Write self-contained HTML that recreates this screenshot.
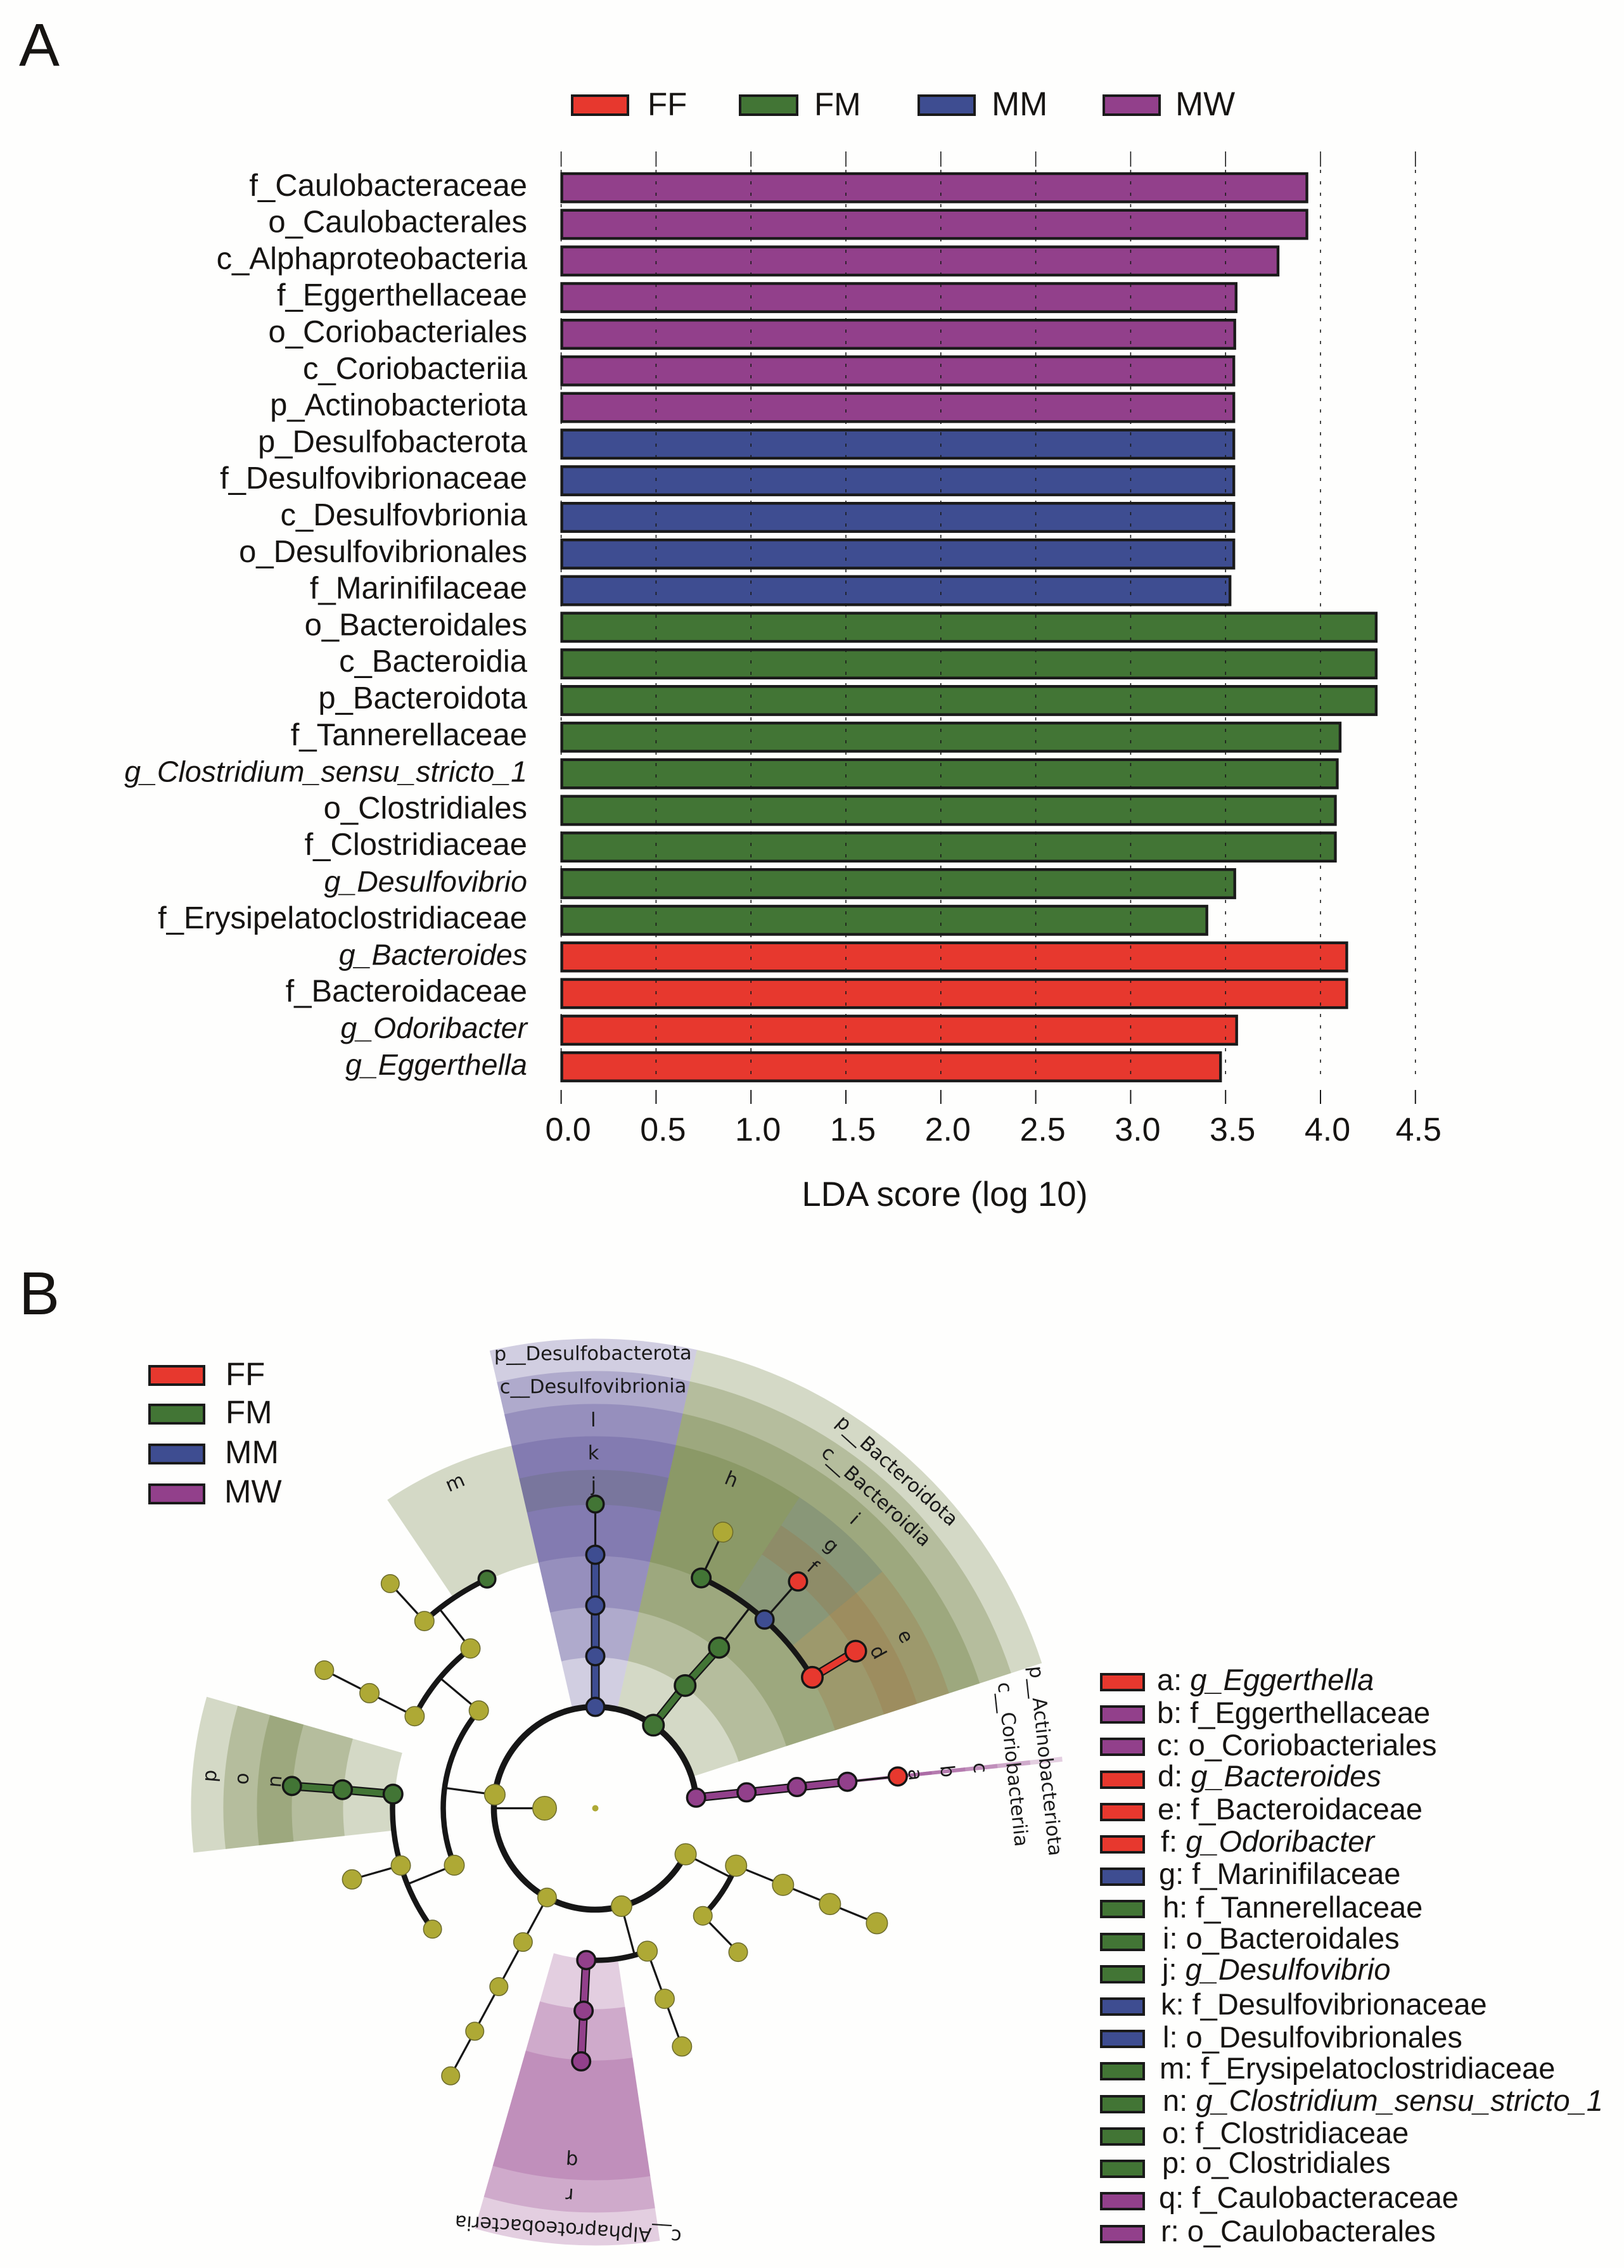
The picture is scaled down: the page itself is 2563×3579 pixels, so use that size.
<!DOCTYPE html>
<html lang="en">
<head>
<meta charset="utf-8">
<title>LEfSe LDA scores and cladogram</title>
<style>
html,body{margin:0;padding:0;background:#fefefd;}
svg{display:block;position:absolute;left:0;top:0;}
text{font-family:"Liberation Sans",Arial,sans-serif;fill:#161412;}
.clade{font-family:"DejaVu Sans",sans-serif;font-size:30.5px;fill:#1a1a1a;}
.leg{font-size:47px;}
.lg{font-size:51px;}
.panel{font-size:96px;}
.sw{stroke:#1a1a1a;stroke-width:4;}
</style>
</head>
<body>
<svg id="fig" xmlns="http://www.w3.org/2000/svg" width="2563" height="3579" viewBox="0 0 2563 3579">
<rect width="2563" height="3579" fill="#fefefd"/>
<text class="panel" x="30" y="104">A</text>
<text class="panel" x="30" y="2074">B</text>

<g>
<rect class="sw" x="903" y="151" width="88" height="30" fill="#e7382e"/>
<text class="lg" x="1022" y="182">FF</text>
<rect class="sw" x="1168" y="151" width="90" height="30" fill="#427535"/>
<text class="lg" x="1285" y="182">FM</text>
<rect class="sw" x="1450" y="151" width="88" height="30" fill="#3e4d91"/>
<text class="lg" x="1565" y="182" font-size="53" style="font-size:53px">MM</text>
<rect class="sw" x="1742" y="151" width="88" height="30" fill="#92408b"/>
<text class="lg" x="1855" y="182" style="font-size:53px">MW</text>
</g>
<g id="bars"></g>
<text class="lg" x="1491" y="1903" text-anchor="middle" style="font-size:54.5px">LDA score (log 10)</text>

<g id="clado"></g>

<g>
<rect class="sw" x="236" y="2156" width="86" height="29" fill="#e7382e"/>
<text class="lg" x="356" y="2186">FF</text>
<rect class="sw" x="236" y="2217" width="86" height="29" fill="#427535"/>
<text class="lg" x="356" y="2246">FM</text>
<rect class="sw" x="236" y="2280" width="86" height="29" fill="#3e4d91"/>
<text class="lg" x="355" y="2309">MM</text>
<rect class="sw" x="236" y="2343" width="86" height="29" fill="#92408b"/>
<text class="lg" x="354" y="2371">MW</text>
</g>

<g>
<rect class="sw" x="1738" y="2642" width="67" height="25" fill="#e7382e"/>
<text class="leg" x="1826" y="2667">a: <tspan font-style="italic">g_Eggerthella</tspan></text>
<rect class="sw" x="1738" y="2693" width="67" height="25" fill="#92408b"/>
<text class="leg" x="1826" y="2719">b: f_Eggerthellaceae</text>
<rect class="sw" x="1738" y="2744" width="67" height="25" fill="#92408b"/>
<text class="leg" x="1826" y="2770">c: o_Coriobacteriales</text>
<rect class="sw" x="1738" y="2796" width="67" height="25" fill="#e7382e"/>
<text class="leg" x="1827" y="2819">d: <tspan font-style="italic">g_Bacteroides</tspan></text>
<rect class="sw" x="1738" y="2847" width="67" height="25" fill="#e7382e"/>
<text class="leg" x="1827" y="2871">e: f_Bacteroidaceae</text>
<rect class="sw" x="1738" y="2898" width="67" height="25" fill="#e7382e"/>
<text class="leg" x="1832" y="2922">f: <tspan font-style="italic">g_Odoribacter</tspan></text>
<rect class="sw" x="1738" y="2949" width="67" height="25" fill="#3e4d91"/>
<text class="leg" x="1829" y="2973">g: f_Marinifilaceae</text>
<rect class="sw" x="1738" y="3000" width="67" height="25" fill="#427535"/>
<text class="leg" x="1835" y="3026">h: f_Tannerellaceae</text>
<rect class="sw" x="1738" y="3052" width="67" height="25" fill="#427535"/>
<text class="leg" x="1835" y="3075">i: o_Bacteroidales</text>
<rect class="sw" x="1738" y="3103" width="67" height="25" fill="#427535"/>
<text class="leg" x="1834" y="3124">j: <tspan font-style="italic">g_Desulfovibrio</tspan></text>
<rect class="sw" x="1738" y="3154" width="67" height="25" fill="#3e4d91"/>
<text class="leg" x="1832" y="3179">k: f_Desulfovibrionaceae</text>
<rect class="sw" x="1738" y="3205" width="67" height="25" fill="#3e4d91"/>
<text class="leg" x="1835" y="3231">l: o_Desulfovibrionales</text>
<rect class="sw" x="1738" y="3256" width="67" height="25" fill="#427535"/>
<text class="leg" x="1830" y="3280">m: f_Erysipelatoclostridiaceae</text>
<rect class="sw" x="1738" y="3308" width="67" height="25" fill="#427535"/>
<text class="leg" x="1835" y="3331">n: <tspan font-style="italic">g_Clostridium_sensu_stricto_1</tspan></text>
<rect class="sw" x="1738" y="3359" width="67" height="25" fill="#427535"/>
<text class="leg" x="1834" y="3382">o: f_Clostridiaceae</text>
<rect class="sw" x="1738" y="3410" width="67" height="25" fill="#427535"/>
<text class="leg" x="1834" y="3429">p: o_Clostridiales</text>
<rect class="sw" x="1738" y="3461" width="67" height="25" fill="#92408b"/>
<text class="leg" x="1829" y="3484">q: f_Caulobacteraceae</text>
<rect class="sw" x="1738" y="3513" width="67" height="25" fill="#92408b"/>
<text class="leg" x="1832" y="3537">r: o_Caulobacterales</text>
</g>
</svg>

<script>
/* ---------- Panel A data ---------- */
const categories = ["f_Caulobacteraceae","o_Caulobacterales","c_Alphaproteobacteria","f_Eggerthellaceae","o_Coriobacteriales","c_Coriobacteriia","p_Actinobacteriota","p_Desulfobacterota","f_Desulfovibrionaceae","c_Desulfovbrionia","o_Desulfovibrionales","f_Marinifilaceae","o_Bacteroidales","c_Bacteroidia","p_Bacteroidota","f_Tannerellaceae","g_Clostridium_sensu_stricto_1","o_Clostridiales","f_Clostridiaceae","g_Desulfovibrio","f_Erysipelatoclostridiaceae","g_Bacteroides","f_Bacteroidaceae","g_Odoribacter","g_Eggerthella"];
const ldaScores = [3.935,3.935,3.783,3.562,3.555,3.55,3.55,3.55,3.55,3.55,3.55,3.53,4.30,4.30,4.30,4.11,4.095,4.085,4.085,3.555,3.408,4.145,4.145,3.565,3.48];
const barGroups = ["MW","MW","MW","MW","MW","MW","MW","MM","MM","MM","MM","MM","FM","FM","FM","FM","FM","FM","FM","FM","FM","FF","FF","FF","FF"];
const xTicks = [0,0.5,1,1.5,2,2.5,3,3.5,4,4.5];
const xTickLabels = ["0.0","0.5","1.0","1.5","2.0","2.5","3.0","3.5","4.0","4.5"];

/* ---------- Panel B data ---------- */
const nodeParent = [-1,-1,1,2,3,4,5,1,7,8,9,10,9,12,9,14,1,16,17,18,19,1,21,22,23,24,21,26,1,28,29,30,28,32,33,1,35,36,37,38,1,40,41,42,42,44,41,46,47,40,49,49,51,49,53,54];
const nodeLevel = [0,1,2,3,4,5,6,2,3,4,5,6,5,6,5,6,2,3,4,5,6,2,3,4,5,6,3,4,2,3,4,5,3,4,5,2,3,4,5,6,2,3,4,5,5,6,4,5,6,3,4,4,5,4,5,6];
const nodeAngle = [0,270,360,360,360,360,360,395,396.2,397.6,384.7,384.8,401.9,401.8,418.9,418.9,444,444,444,444,444,117,112.2,112.2,112.2,112.2,135,135.2,165,160,160,160,183.4,183.3,183.2,208.4,208.4,208.4,208.4,208.4,277.7,310,322,334.7,317.6,317.6,297,297,297,248,233.4,253.6,253.7,274,274.2,274.2];
const nodeGroup = ["O","O","MM","MM","MM","MM","FM","FM","FM","FM","FM","O","MM","FF","FF","FF","MW","MW","MW","MW","FF","O","O","O","O","O","O","O","O","O","O","O","MW","MW","MW","O","O","O","O","O","O","O","O","FM","O","O","O","O","O","O","O","O","O","FM","FM","FM"];
const nodeSize = [5,19.5,16,16,16,16,15,18,18,17.5,16.5,16.5,16,16,18,18,16,16,16,16,16,17.5,17.5,17.5,17.5,17.5,15.5,15.5,17,16.5,16,16,16,16,16,15.5,15.5,15,15,15,17,16,16,15,16,15,16,16,15.5,16.5,15,16,16,16.5,16.5,16];

const wedgeNames = ["p__Bacteroidota","c__Bacteroidia","i","h","g","e","f","d","p__Desulfobacterota","c__Desulfovibrionia","l","k","j","p__Actinobacteriota","c__Coriobacteriia","c","b","a","m","p","o","n","c__Alphaproteobacteria","r","q"];
const wedgeStart = [12.5,12.5,12.5,12.5,33.3,50.5,33.3,50.5,-13,-13,-13,-13,-13,83.7,83.7,83.7,83.7,83.7,326,263.7,263.7,263.7,171.5,171.5,171.5];
const wedgeEnd = [72,72,72,33.3,50.5,72,50.5,72,12.5,12.5,12.5,12.5,12.5,84.3,84.3,84.3,84.3,84.3,347,286,286,286,196,196,196];
const wedgeDepth = [0,1,2,3,3,3,4,4,0,1,2,3,4,0,1,2,3,4,3,2,3,4,1,2,3];
const wedgeTint = ["G","G","G","G","B2","R2","R2","R2","B","B","B","B","G2","P","P","P","P","P","G","G","G","G","P","P","P"];
const ringEdges = [160,238,317,398,479,534,587,638,690,741];

const labelText = ["p__Desulfobacterota","c__Desulfovibrionia","l","k","j","p__Bacteroidota","c__Bacteroidia","i","h","g","f","e","d","m","p","o","n","q","r","c__Alphaproteobacteria","a","b","c","c__Coriobacteriia","p__Actinobacteriota"];
const labelAngle = [-0.3,-0.3,-0.3,-0.3,-0.3,41.8,42,41.9,22.5,41.9,42,61,61.1,336.7,274.8,274.8,274.8,183.8,183.8,183.7,84,84,84,84,84];
const labelRadius = [717,665,612,560,510,714,662,613,561,557,512,559,509,559,610,559,507,557,611,665,507,558,610,662,714];

const groupFill = {FF:"#e7382e",FM:"#427535",MM:"#3e4d91",MW:"#92408b",O:"#aea935"};
const tintFill = {G:"#586c23",B:"#4b418e",P:"#92408b",B2:"#4e6469",R2:"#9e6a38",G2:"#5c6962"};

const SVG_NS = "http://www.w3.org/2000/svg";
function make(tag, parent, attrs){
  const el = document.createElementNS(SVG_NS, tag);
  for (const k in attrs) el.setAttribute(k, attrs[k]);
  parent.appendChild(el);
  return el;
}
function slug(s){ return s.toLowerCase().replace(/[^a-z0-9]+/g,'-').replace(/^-|-$/g,''); }

/* ---------- Panel A drawing ---------- */
const barsG = document.getElementById('bars');
const xScale = v => 885.6 + 299.6 * v;
const bandTop = i => 272 + 57.8 * i;
const BAR_H = 48.5;

categories.forEach((name, i) => {
  const rect = make('rect', barsG, {
    x: xScale(0) + 1, y: bandTop(i) + 2,
    width: xScale(ldaScores[i]) - xScale(0) - 3, height: BAR_H - 4,
    fill: groupFill[barGroups[i]], stroke: '#1a1a1a', 'stroke-width': 4.4
  });
  
  

  const italic = name.indexOf('g_') === 0;
  const lab = make('text', barsG, {
    x: 832, y: bandTop(i) + BAR_H / 2 + 12.5, 'text-anchor': 'end', 'font-size': italic ? 46.5 : 49
  });
  if (italic) lab.setAttribute('font-style', 'italic');
  lab.textContent = name;
  
  
});

xTicks.forEach((t, i) => {
  const x = xScale(t);
  const top = make('line', barsG, {x1:x, x2:x, y1:239, y2:263, stroke:'#1a1a1a', 'stroke-width':1.6});
  
  

  const grid = make('line', barsG, {x1:x, x2:x, y1:268, y2:1708, stroke:'#1a1a1a', 'stroke-width':1.6, 'stroke-dasharray':'5 13'});
  
  

  const bottom = make('line', barsG, {x1:x, x2:x, y1:1720, y2:1742, stroke:'#1a1a1a', 'stroke-width':2});
  
  

  const lab = make('text', barsG, {x: x + (i === xTicks.length - 1 ? 5 : 11), y:1800, 'text-anchor':'middle', 'font-size':52});
  lab.textContent = xTickLabels[i];
  
  
});

/* ---------- Panel B drawing ---------- */
const clado = document.getElementById('clado');
const CX = 939.5, CY = 2853.5;
const levelRadius = l => l * 80;
function polar(r, deg){
  const a = deg * Math.PI / 180;
  return [CX + r * Math.sin(a), CY - r * Math.cos(a)];
}
function sectorPath(a0, a1, r0, r1){
  const p0 = polar(r1, a0), p1 = polar(r1, a1), p2 = polar(r0, a1), p3 = polar(r0, a0);
  return 'M' + p0 + 'A' + r1 + ' ' + r1 + ' 0 0 1 ' + p1 + 'L' + p2 + 'A' + r0 + ' ' + r0 + ' 0 0 0 ' + p3 + 'Z';
}
function arcPath(a0, a1, r){
  const p0 = polar(r, a0), p1 = polar(r, a1);
  const large = (a1 - a0) > 180 ? 1 : 0;
  return 'M' + p0 + 'A' + r + ' ' + r + ' 0 ' + large + ' 1 ' + p1;
}

wedgeNames.forEach((name, i) => {
  const d = wedgeDepth[i];
  const w = make('path', clado, {
    d: sectorPath(wedgeStart[i], wedgeEnd[i], ringEdges[d], ringEdges[9 - d]),
    fill: tintFill[wedgeTint[i]], 'fill-opacity': 0.25
  });
  
  
});

/* branches: one arc per sibling set, one radial link from each parent */
const childrenOf = {};
nodeParent.forEach((p, i) => { if (p >= 0) (childrenOf[p] = childrenOf[p] || []).push(i); });

Object.keys(childrenOf).forEach(key => {
  const p = +key, kids = childrenOf[p];
  if (kids.length > 1) {
    const angles = kids.map(k => nodeAngle[k]);
    const r = levelRadius(nodeLevel[kids[0]]);
    const arc = make('path', clado, {
      d: arcPath(Math.min.apply(null, angles), Math.max.apply(null, angles), r),
      fill: 'none', stroke: '#161616', 'stroke-width': nodeLevel[kids[0]] === 2 ? 9.5 : 8.5
    });
    
    
    const a = polar(levelRadius(nodeLevel[p]), nodeAngle[p]), b = polar(r, nodeAngle[p]);
    const link = make('line', clado, {x1:a[0], y1:a[1], x2:b[0], y2:b[1], stroke:'#161616', 'stroke-width':3.2});
    
    
  } else {
    const k = kids[0];
    const a = polar(levelRadius(nodeLevel[p]), nodeAngle[p]), b = polar(levelRadius(nodeLevel[k]), nodeAngle[k]);
    const same = nodeGroup[p] === nodeGroup[k] && nodeGroup[k] !== 'O';
    const link = make('line', clado, {x1:a[0], y1:a[1], x2:b[0], y2:b[1], stroke:'#161616', 'stroke-width': same ? 14 : 3.2});
    
    
    if (same) {
      const inner = make('line', clado, {x1:a[0], y1:a[1], x2:b[0], y2:b[1], stroke: groupFill[nodeGroup[k]], 'stroke-width': 9.5});
      
      
    }
  }
});

nodeParent.forEach((p, i) => {
  const pos = polar(levelRadius(nodeLevel[i]), nodeAngle[i]);
  const plain = nodeGroup[i] === 'O';
  const sw = i === 0 ? 0 : (plain ? 1.5 : 3.5);
  const c = make('circle', clado, {
    cx: pos[0], cy: pos[1], r: nodeSize[i] - sw / 2,
    fill: groupFill[nodeGroup[i]],
    stroke: plain ? '#6b6a2c' : '#161616', 'stroke-width': sw
  });
  
  
});

labelText.forEach((t, i) => {
  const pos = polar(labelRadius[i], labelAngle[i]);
  const lab = make('text', clado, {
    class: 'clade', x: pos[0], y: pos[1], 'text-anchor': 'middle', 'dominant-baseline': 'central',
    transform: 'rotate(' + labelAngle[i] + ' ' + pos[0] + ' ' + pos[1] + ')'
  });
  lab.textContent = t;
  
  
});
</script>
</body>
</html>
